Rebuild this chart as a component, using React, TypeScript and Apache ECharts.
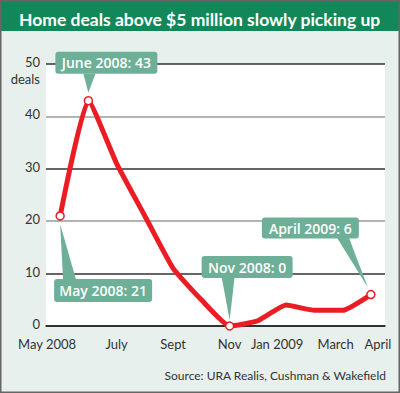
import React, { useEffect, useRef } from "react";
import * as echarts from "echarts";

const months = ["May 2008", "Jun 2008", "Jul 2008", "Aug 2008", "Sep 2008", "Oct 2008", "Nov 2008", "Dec 2008", "Jan 2009", "Feb 2009", "Mar 2009", "Apr 2009"];
const xLabels = ["May 2008", "", "July", "", "Sept", "", "Nov", "", "Jan 2009", "", "March", "April"];
const deals = [21, 43, 31, 21, 11, 5, 0, 1, 4, 3, 3, 6];
const markedIdx = [0, 1, 6, 11];
const unitLabel = "deals";
const callouts = [
  { idx: 1, text: "June 2008: 43" },
  { idx: 0, text: "May 2008: 21" },
  { idx: 6, text: "Nov 2008: 0" },
  { idx: 11, text: "April 2009: 6" },
];
// layout offsets per callout (relative to the data point)
const calloutLayout: Record<number, any> = {
  1: { bx: -33, by: -49, bw: 102, bh: 22, base: [[-5, -27], [7, -27]], tip: [0, -8] },
  0: { bx: -6, by: 63, bw: 98, bh: 23, base: [[3, 64], [16, 64]], tip: [0, 8] },
  6: { bx: -28, by: -70, bw: 91, bh: 22, base: [[-8, -49], [5, -49]], tip: [0, -6] },
  11: { bx: -109, by: -77, bw: 97, bh: 21, base: [[-34, -57], [-22, -57]], tip: [-3, -7] },
};
// horizontal nudge of some x labels (px, negative = left)
const labelShift: Record<number, number> = { 0: -13, 8: -9, 10: -7, 11: 7 };

const FONT = "Lato, 'Open Sans', 'DejaVu Sans', sans-serif";
const BOXFONT = "'Open Sans', 'DejaVu Sans', sans-serif";
const RED = "#ec1c24";
const TEAL = "#6db097";

export default function App() {
  const ref = useRef<HTMLDivElement>(null);
  useEffect(() => {
    const chart = echarts.init(ref.current!, null, { renderer: "svg" });
    const splitColors = ["#333", "#333", "#999", "#333", "#999", "#333"];
    const rich: Record<string, any> = {
      n: { color: "#333", fontSize: 13, fontFamily: FONT, lineHeight: 14 },
    };
    Object.keys(labelShift).forEach((k) => {
      const s = labelShift[+k];
      rich["s" + k] = {
        color: "#333",
        fontSize: 13,
        fontFamily: FONT,
        lineHeight: 14,
        padding: s < 0 ? [0, -2 * s, 0, 0] : [0, 0, 0, 2 * s],
      };
    });
    chart.setOption({
      animation: false,
      backgroundColor: "#e7f0ed",
      title: {
        text: "Home deals above $5 million slowly picking up",
        left: 14,
        top: 5,
        textStyle: { color: "#fff", fontSize: 17.5, fontWeight: 700, fontFamily: FONT },
      },
      grid: {
        left: 46,
        right: 15,
        top: 64,
        bottom: 67,
        show: true,
        backgroundColor: "#fff",
        borderWidth: 0,
      },
      xAxis: {
        type: "category",
        data: months,
        boundaryGap: true,
        axisLine: { lineStyle: { color: "#222", width: 1.5 } },
        axisTick: {
          alignWithLabel: true,
          length: 5,
          interval: (i: number) => xLabels[i] !== "",
          lineStyle: { color: "#222", width: 1.2 },
        },
        axisLabel: {
          interval: 0,
          formatter: (_v: string, i: number) => {
            if (!xLabels[i]) return "";
            const key = labelShift[i] !== undefined ? "s" + i : "n";
            return "{" + key + "|" + xLabels[i] + "}";
          },
          rich,
          color: "#333",
          fontSize: 13,
          fontFamily: FONT,
          margin: 11,
        },
      },
      yAxis: {
        type: "value",
        min: 0,
        max: 50,
        interval: 10,
        axisLine: { show: false },
        axisTick: { show: false },
        axisLabel: {
          color: "#333",
          fontSize: 13,
          fontFamily: FONT,
          margin: 6,
          formatter: (v: number) => "{v|" + v + "}",
          rich: {
            v: { color: "#333", fontSize: 13, fontFamily: FONT, lineHeight: 11, padding: [0, 0, 4, 0] },
          },
        },
        splitLine: { lineStyle: { color: splitColors, width: 1.5 } },
      },
      series: [
        {
          type: "line",
          smooth: 0.15,
          data: deals.map((v, i) => ({
            value: v,
            symbolSize: markedIdx.includes(i) ? 8 : 0,
          })),
          symbol: "circle",
          showAllSymbol: true,
          lineStyle: { color: RED, width: 5 },
          itemStyle: { color: "#fff", borderColor: RED, borderWidth: 1.5 },
          z: 3,
        },
      ],
    });

    const graphics: any[] = [
      {
        type: "rect",
        shape: { x: 0, y: 0, width: 400, height: 31 },
        style: { fill: "#12875a" },
        z: -1,
      },
      {
        type: "rect",
        shape: { x: 0.75, y: 0.75, width: 398.5, height: 391.5 },
        style: { fill: "none", stroke: "#666", lineWidth: 1.5 },
        z: 10,
      },
      {
        type: "text",
        x: 40,
        y: 79,
        style: {
          text: unitLabel,
          fill: "#333",
          fontSize: 13,
          fontFamily: FONT,
          lineHeight: 11,
          align: "right",
          verticalAlign: "middle",
        },
      },
      {
        type: "text",
        x: 386,
        y: 375,
        style: {
          text: "Source: URA Realis, Cushman & Wakefield",
          fill: "#333",
          fontSize: 12,
          fontFamily: FONT,
          align: "right",
          verticalAlign: "middle",
        },
      },
    ];
    callouts.forEach((c) => {
      const [px, py] = chart.convertToPixel({ seriesIndex: 0 }, [c.idx, deals[c.idx]]) as number[];
      const L = calloutLayout[c.idx];
      graphics.push({
        type: "polygon",
        shape: {
          points: [
            [px + L.base[0][0], py + L.base[0][1]],
            [px + L.base[1][0], py + L.base[1][1]],
            [px + L.tip[0], py + L.tip[1]],
          ],
        },
        style: { fill: TEAL },
        z: 5,
      });
      graphics.push({
        type: "rect",
        shape: { x: px + L.bx, y: py + L.by, width: L.bw, height: L.bh, r: 3 },
        style: { fill: TEAL },
        z: 5,
      });
      graphics.push({
        type: "text",
        x: px + L.bx + L.bw / 2,
        y: py + L.by + L.bh / 2,
        style: {
          text: c.text,
          fill: "#fff",
          fontSize: 14,
          fontWeight: 600,
          fontFamily: BOXFONT,
          align: "center",
          verticalAlign: "middle",
        },
        z: 6,
      });
    });
    chart.setOption({ graphic: graphics });
    return () => chart.dispose();
  }, []);
  return <div ref={ref} style={{ position: "fixed", left: 0, top: 0, width: 400, height: 393 }} />;
}
